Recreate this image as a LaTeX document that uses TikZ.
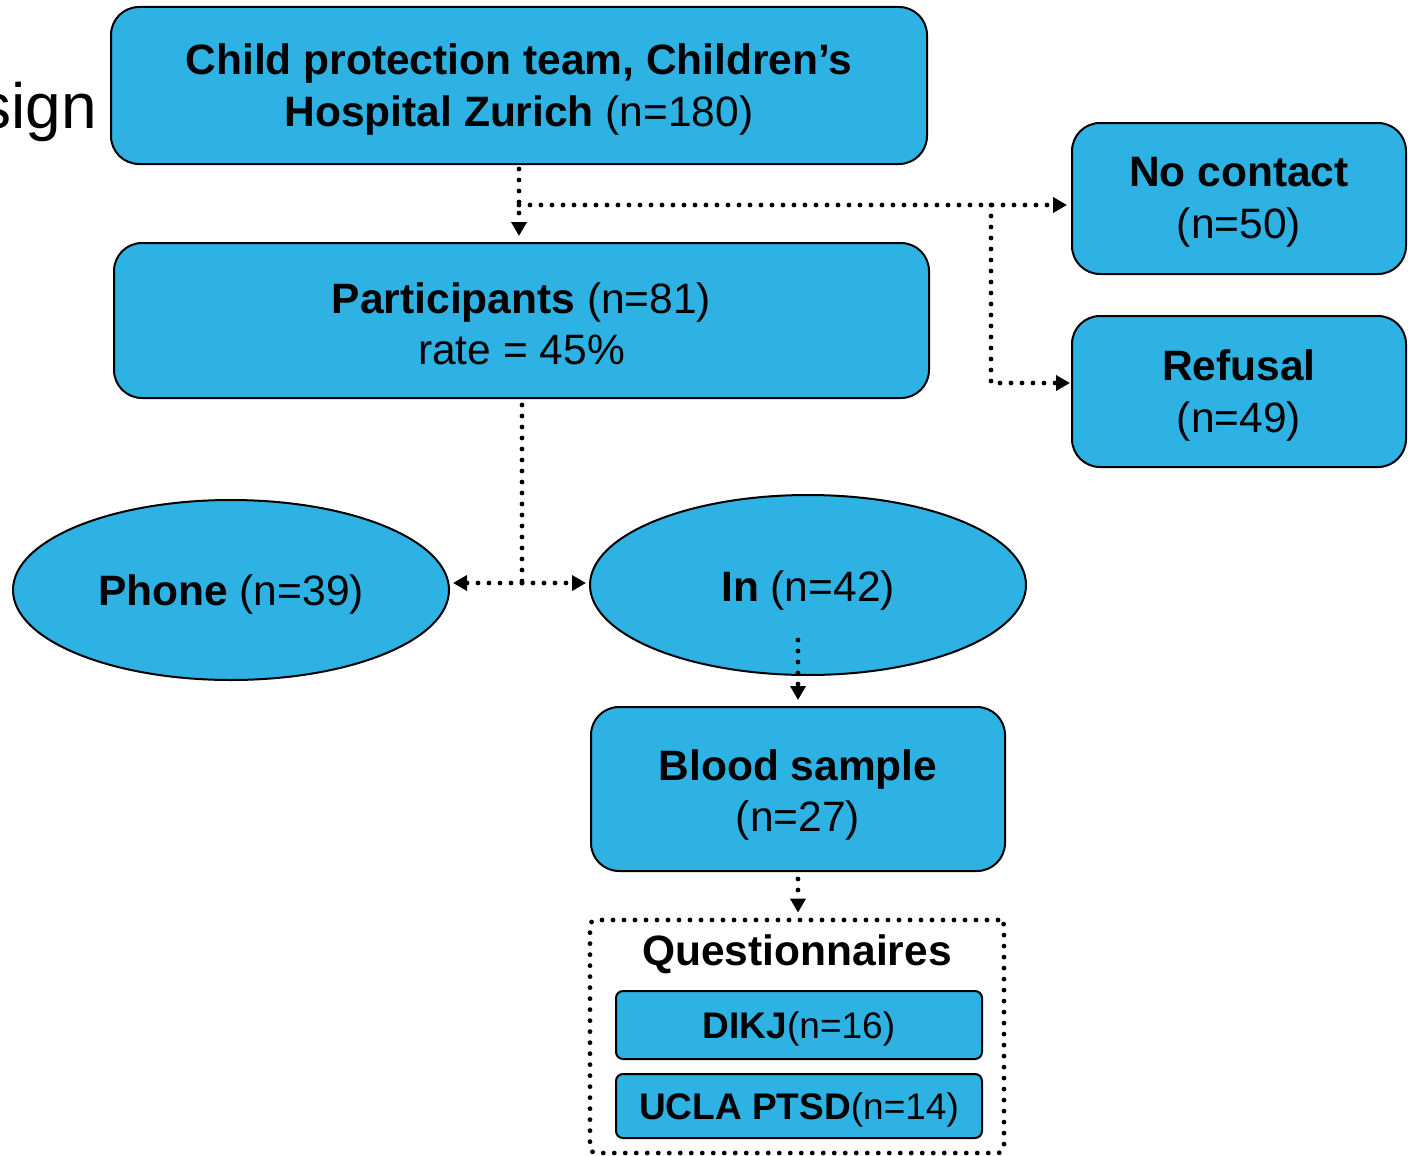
\documentclass[tikz,border=0pt]{standalone}
\usepackage{fontspec}
\setmainfont{Liberation Sans}
\usetikzlibrary{arrows.meta,shapes.geometric}
\definecolor{boxblue}{RGB}{45,178,227}
\tikzset{
  bluebox/.style={draw=black, line width=2pt, fill=boxblue, rounded corners=28pt, inner sep=0pt},
  smallbox/.style={draw=black, line width=2pt, fill=boxblue, rounded corners=7pt, inner sep=0pt},
  blueell/.style={ellipse, draw=black, line width=2pt, fill=boxblue, inner sep=0pt},
  txt/.style={inner sep=0pt, align=center, font=\fontsize{42.5}{51.5}\selectfont},
  smalltxt/.style={inner sep=0pt, align=center, font=\fontsize{37}{44}\selectfont},
  dotline/.style={line width=4.8pt, line cap=round, dash pattern=on 0pt off 11pt},
  dotarrow/.style={dotline, -{Triangle[length=14pt,width=15pt]}},
}
\begin{document}
\begin{tikzpicture}[x=1pt,y=-1pt]
\useasboundingbox (0,0) rectangle (1408,1156);
% title fragment
\node[anchor=base east, inner sep=0pt, font=\fontsize{64}{72}\selectfont] (title) at (97,128) {sign};
% shapes
\node[bluebox, minimum width=816pt, minimum height=157pt] (top) at (519,85.5) {};
\node[bluebox, minimum width=815pt, minimum height=155pt] (part) at (521.5,320.5) {};
\node[bluebox, minimum width=334pt, minimum height=151pt] (nc) at (1239,198.5) {};
\node[bluebox, minimum width=334pt, minimum height=151pt] (ref) at (1239,391.5) {};
\node[blueell, minimum width=436pt, minimum height=180pt] (phone) at (231,590) {};
\node[blueell, minimum width=436pt, minimum height=180pt] (in) at (808,585) {};
\node[bluebox, minimum width=414pt, minimum height=164pt] (blood) at (798,789) {};
\node[draw=black, dotline, rounded corners=6pt, minimum width=414pt, minimum height=233pt, inner sep=0pt] (quest) at (797,1036.5) {};
\node[smallbox, minimum width=366pt, minimum height=68pt] (dikj) at (799,1025) {};
\node[smallbox, minimum width=366pt, minimum height=64pt] (ucla) at (799,1106) {};
% texts
\node[txt] (toptxt) at (519,89.5)
  {\textbf{Child protection team, Children’s}\\\textbf{Hospital Zurich} (n=180)};
\node[txt] (parttxt) at (521.5,324)
  {\textbf{Participants} (n=81)\\rate = 45\%};
\node[txt] (nctxt) at (1239,202.5) {\textbf{No contact}\\(n=50)};
\node[txt] (reftxt) at (1239,395.5) {\textbf{Refusal}\\(n=49)};
\node[txt] (phonetxt) at (231,594) {\textbf{Phone} (n=39)};
\node[txt] (intxt) at (808,590) {\textbf{In} (n=42)};
\node[txt] (bloodtxt) at (798,795) {\textbf{Blood sample}\\(n=27)};
\node[txt, font=\fontsize{42.5}{51.5}\selectfont\bfseries] (qlabel) at (797,954) {Questionnaires};
\node[smalltxt] (dikjtxt) at (799,1029) {\textbf{DIKJ}(n=16)};
\node[smalltxt] (uclatxt) at (799,1110) {\textbf{UCLA PTSD}(n=14)};
% connectors
\coordinate (br) at (519,205);
\coordinate (br2) at (991,205);
\coordinate (jn) at (522,583);
\coordinate (inb) at (798,640);
\draw[dotarrow] ([yshift=-4pt]top.south) -- ([yshift=6pt]top.south |- part.north);
\draw[dotarrow] (br) -- ([xshift=-4pt]br -| nc.west);
\draw[dotarrow] (br2) |- ([xshift=-1pt,yshift=8.5pt]ref.west);
\draw[dotline] ([yshift=-6pt]part.south -| jn) -- (jn);
\draw[dotarrow] (jn) -- ([xshift=3pt]jn -| phone.east);
\draw[dotarrow] (jn) -- ([xshift=-3pt]jn -| in.west);
\draw[dotarrow] (inb) -- ([yshift=6pt]blood.north);
\draw[dotarrow] ([yshift=-7pt]blood.south) -- ([yshift=5pt]blood.south |- quest.north);
\end{tikzpicture}
\end{document}
